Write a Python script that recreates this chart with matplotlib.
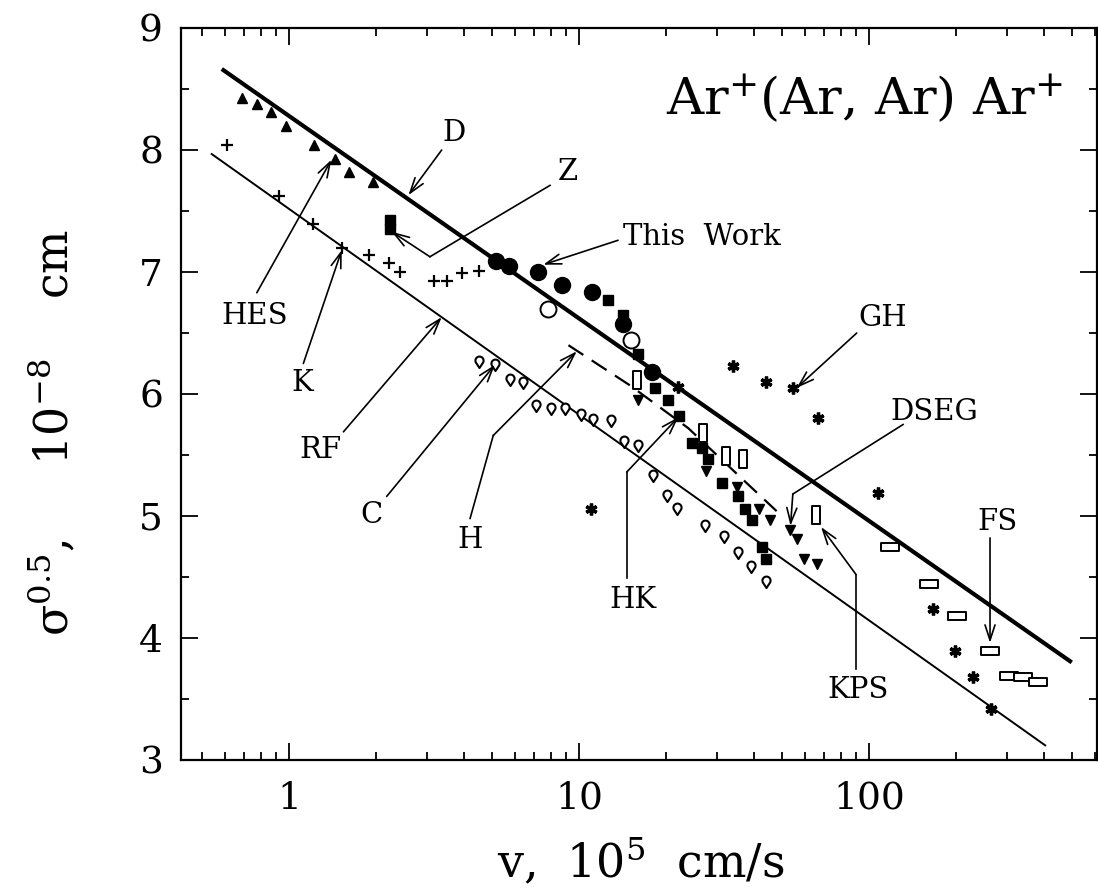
import numpy as np
import matplotlib
matplotlib.use('Agg')
import matplotlib.pyplot as plt
from matplotlib.path import Path

plt.rcParams['font.family'] = 'DejaVu Serif'
plt.rcParams['mathtext.fontset'] = 'dejavuserif'

# values: v in 1e5 cm/s, sigma^0.5 in 1e-8 cm
hes_v = [0.687, 0.774, 0.865, 0.976, 1.22, 1.44, 1.61, 1.94]
hes_s = [8.43, 8.38, 8.31, 8.20, 8.04, 7.93, 7.82, 7.74]

k_v = [0.613, 0.926, 1.213, 1.52, 1.89, 2.21, 2.41, 3.16, 3.51, 3.94, 4.53]
k_s = [8.04, 7.62, 7.39, 7.20, 7.14, 7.07, 7.00, 6.93, 6.93, 6.99, 7.01]

work_v = [5.17, 5.75, 7.24, 8.72, 11.06, 14.22, 17.81]
work_s = [7.09, 7.05, 7.00, 6.89, 6.84, 6.57, 6.18]
work_open_v = [7.84, 15.08]
work_open_s = [6.70, 6.44]

z_v = [2.23, 2.23, 12.62, 14.15, 16.01, 18.28, 20.2]
z_s = [7.43, 7.35, 6.77, 6.65, 6.33, 6.05, 5.95]

hk_v = [22.1, 24.5, 26.5, 27.9, 31.2, 35.4, 37.4, 39.4, 42.8, 44.2]
hk_s = [5.82, 5.60, 5.555, 5.47, 5.27, 5.16, 5.06, 4.97, 4.75, 4.645]

dseg_v = [16.01, 27.4, 35.0, 41.8, 45.6, 53.4, 56.6, 59.7, 66.0]
dseg_s = [5.95, 5.37, 5.24, 5.06, 4.97, 4.885, 4.81, 4.65, 4.61]

kps_v = [15.9, 26.8, 32.1, 36.9, 65.7]
kps_s = [6.115, 5.68, 5.495, 5.47, 5.01]

fs_v = [118.1, 161.4, 201.6, 261.3, 304.7, 340.5, 381.6]
fs_s = [4.75, 4.44, 4.18, 3.89, 3.69, 3.68, 3.64]

c_v = [4.53, 5.13, 5.78, 6.40, 7.11, 8.01, 8.95, 10.14, 11.2, 12.9, 14.3, 16.0,
       18.0, 20.1, 21.7, 27.2, 31.6, 35.4, 39.1, 44.0]
c_s = [6.265, 6.24, 6.115, 6.09, 5.90, 5.875, 5.88, 5.83, 5.79, 5.78, 5.61, 5.57,
       5.33, 5.16, 5.06, 4.92, 4.83, 4.70, 4.585, 4.46]

gh_v = [10.97, 21.9, 34.0, 44.2, 54.8, 66.9, 107.7, 165.8, 198, 229, 263]
gh_s = [5.06, 6.055, 6.23, 6.10, 6.05, 5.80, 5.19, 4.24, 3.89, 3.68, 3.42]

h_v = [9.19, 15.0, 23.8, 35.2, 48.0]
h_s = [6.40, 6.07, 5.72, 5.34, 5.04]

d_v = [0.586, 500]
d_s = [8.664, 3.80]
rf_v = [0.541, 405]
rf_s = [7.967, 3.12]

# label text, label position, alignment, arrow path (last point = arrow tip)
labels = [
    ('D', (3.71, 8.14), 'center', [(3.36, 8.0), (2.58, 7.63)]),
    ('Z', (9.16, 7.82), 'center', [(7.94, 7.71), (3.06, 7.125), (2.26, 7.33)]),
    ('This  Work', (14.18, 7.29), 'left', [(13.63, 7.26), (7.53, 7.06)]),
    ('HES', (0.763, 6.64), 'center', [(0.774, 6.83), (1.40, 7.92)]),
    ('K', (1.11, 6.09), 'center', [(1.12, 6.25), (1.52, 7.18)]),
    ('RF', (1.28, 5.54), 'center', [(1.54, 5.69), (3.36, 6.63)]),
    ('C', (1.93, 5.01), 'center', [(2.17, 5.16), (5.13, 6.24)]),
    ('H', (4.21, 4.80), 'center', [(4.21, 4.98), (5.06, 5.66), (9.82, 6.35)]),
    ('HK', (15.36, 4.31), 'center', [(14.6, 4.49), (14.6, 5.36), (22.0, 5.81)]),
    ('GH', (111.8, 6.62), 'center', [(90.7, 6.50), (56.3, 6.05)]),
    ('DSEG', (167.5, 5.85), 'center', [(131, 5.75), (54.6, 5.18), (53.6, 4.92)]),
    ('KPS', (91.6, 3.57), 'center', [(90.2, 3.75), (90.2, 4.52), (68.3, 4.91)]),
    ('FS', (276.3, 4.95), 'center', [(261.3, 4.82), (261.3, 3.96)]),
]

# teardrop marker used for the C points
t = np.radians(np.linspace(-40, 220, 30))
drop = np.column_stack([0.55 * np.cos(t), 0.25 + 0.55 * np.sin(t)])
drop = np.vstack([drop, [0, -0.75], drop[:1]])
drop_marker = Path(drop, closed=True)
tall_rect = Path([(-0.4, -1), (0.4, -1), (0.4, 1), (-0.4, 1), (-0.4, -1)], closed=True)
wide_rect = Path([(-1, -0.45), (1, -0.45), (1, 0.45), (-1, 0.45), (-1, -0.45)], closed=True)

fig = plt.figure(figsize=(10.98, 8.91), dpi=100)
ax = fig.add_axes([181 / 1098, 1 - 760 / 891, 916 / 1098, 732 / 891])
ax.set_xscale('log')

ax.plot(d_v, d_s, color='black', lw=3.0, solid_capstyle='butt')
ax.plot(rf_v, rf_s, color='black', lw=1.4)
ax.plot(h_v, h_s, color='black', lw=1.6, dashes=(8, 4.5))

ax.plot(hes_v, hes_s, '^', color='black', ms=7, ls='none')
ax.plot(k_v, k_s, '+', color='black', ms=8, mew=1.6, ls='none')
ax.plot(c_v, c_s, marker=drop_marker, mfc='white', mec='black', mew=1.5, ms=8.5, ls='none')
ax.plot(z_v, z_s, 's', color='black', ms=6.5, ls='none')
ax.plot(hk_v, hk_s, 's', color='black', ms=6.5, ls='none')
ax.plot(dseg_v, dseg_s, 'v', color='black', ms=7.5, ls='none')
ax.plot(kps_v, kps_s, marker=tall_rect, mfc='white', mec='black', mew=1.4, ms=13, ls='none')
ax.plot(fs_v, fs_s, marker=wide_rect, mfc='white', mec='black', mew=1.4, ms=13, ls='none')
ax.plot(gh_v, gh_s, marker=(6, 2, 0), color='black', ms=8.5, mew=2.4, ls='none')
ax.plot(work_v, work_s, 'o', color='black', ms=11.5, ls='none')
ax.plot(work_open_v, work_open_s, 'o', mfc='white', mec='black', mew=1.4, ms=11.5, ls='none')

for text, pos, align, path in labels:
    ax.text(pos[0], pos[1], text, fontsize=21, ha=align, va='center')
    if len(path) > 2:
        pv, ps = zip(*path[:-1])
        ax.plot(pv, ps, color='black', lw=1.2)
    ax.annotate('', xy=path[-1], xytext=path[-2],
                arrowprops=dict(arrowstyle='->,head_length=0.55,head_width=0.18',
                                mutation_scale=20, lw=1.2, color='black',
                                shrinkA=0, shrinkB=0))

ax.text(467, 8.29, r'Ar$^{+}$(Ar, Ar) Ar$^{+}$', fontsize=37, ha='right', va='baseline')

ax.set_xlim(0.424, 611)
ax.set_ylim(3, 9)
ax.set_xticks([1, 10, 100])
ax.set_xticklabels(['1', '10', '100'])
ax.set_yticks([3, 4, 5, 6, 7, 8, 9])
ax.set_yticks(np.arange(3.5, 9, 1.0), minor=True)
ax.tick_params(which='both', direction='in', top=True, right=True, labelsize=27, width=1.3)
ax.tick_params(which='major', length=12)
ax.tick_params(which='minor', length=6)
ax.tick_params(axis='x', which='major', pad=15)
ax.tick_params(axis='y', which='major', pad=13)
for sp in ax.spines.values():
    sp.set_linewidth(1.6)

fig.text(641 / 1098, 1 - 862 / 891, r'v,  10$^5$  cm/s', fontsize=33, ha='center', va='center')
fig.text(53 / 1098, 1 - 432 / 891, r'σ$^{0.5}$,     10$^{-8}$    cm', fontsize=33,
         ha='center', va='center', rotation=90)

fig.savefig('out.png', dpi=100)
